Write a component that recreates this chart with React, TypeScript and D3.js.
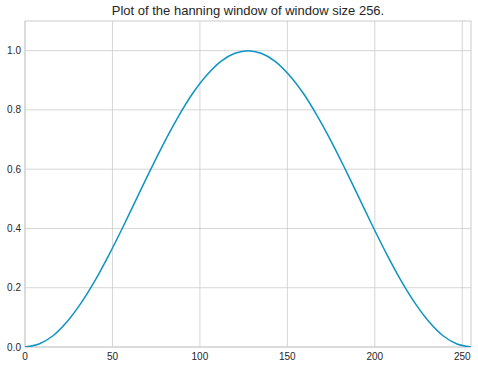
import React from "react";
import * as d3 from "d3";

const W = 478;
const H = 367;
const xs = [0, 8, 16, 24, 32, 40, 48, 56, 64, 72, 80, 88, 96, 104, 112, 120, 127.5, 135, 143, 151, 159, 167, 175, 183, 191, 199, 207, 215, 223, 231, 239, 247, 255];
const ys = [0, 0.010, 0.038, 0.085, 0.148, 0.224, 0.311, 0.405, 0.503, 0.601, 0.695, 0.781, 0.857, 0.918, 0.964, 0.991, 1.0, 0.991, 0.964, 0.918, 0.857, 0.781, 0.695, 0.601, 0.503, 0.405, 0.311, 0.224, 0.148, 0.085, 0.038, 0.010, 0];
const xTicks = [0, 50, 100, 150, 200, 250];
const yTicks = [0, 0.2, 0.4, 0.6, 0.8, 1.0];
const title = "Plot of the hanning window of window size 256.";

export default function App() {
  const m = { l: 25, r: 7, t: 21, b: 20 };
  const x = d3.scaleLinear().domain([0, 255]).range([m.l, W - m.r]);
  const y = d3.scaleLinear().domain([0, 1.1]).range([H - m.b, m.t]);
  const line = d3
    .line<number>()
    .x((_, i) => x(xs[i]))
    .y((d) => y(d))
    .curve(d3.curveCatmullRom);
  const font = "Arial, 'Liberation Sans', sans-serif";
  return (
    <svg width={W} height={H} style={{ position: "absolute", left: 0, top: 0, background: "#fff" }} fontFamily={font}>
      <defs>
        <clipPath id="clip">
          <rect x={m.l} y={m.t} width={W - m.r - m.l} height={H - m.b - m.t} />
        </clipPath>
      </defs>
      {xTicks.map((t) => (
        <g key={"x" + t}>
          <line x1={x(t)} x2={x(t)} y1={m.t} y2={H - m.b} stroke="#cccccc" strokeWidth={0.8} />
          <text x={x(t)} y={H - m.b + 13} textAnchor="middle" fontSize={10} fill="#262626">
            {t}
          </text>
        </g>
      ))}
      {yTicks.map((t) => (
        <g key={"y" + t}>
          <line x1={m.l} x2={W - m.r} y1={y(t)} y2={y(t)} stroke="#cccccc" strokeWidth={0.8} />
          <text x={m.l - 4} y={y(t) + 3.5} textAnchor="end" fontSize={10} fill="#262626">
            {t.toFixed(1)}
          </text>
        </g>
      ))}
      <rect x={m.l} y={m.t} width={W - m.r - m.l} height={H - m.b - m.t} fill="none" stroke="#cccccc" strokeWidth={1} />
      <path d={line(ys) || ""} fill="none" stroke="#0e93c4" strokeWidth={1.5} clipPath="url(#clip)" />
      <text x={(m.l + W - m.r) / 2} y={15} textAnchor="middle" fontSize={13} fill="#262626">
        {title}
      </text>
    </svg>
  );
}
